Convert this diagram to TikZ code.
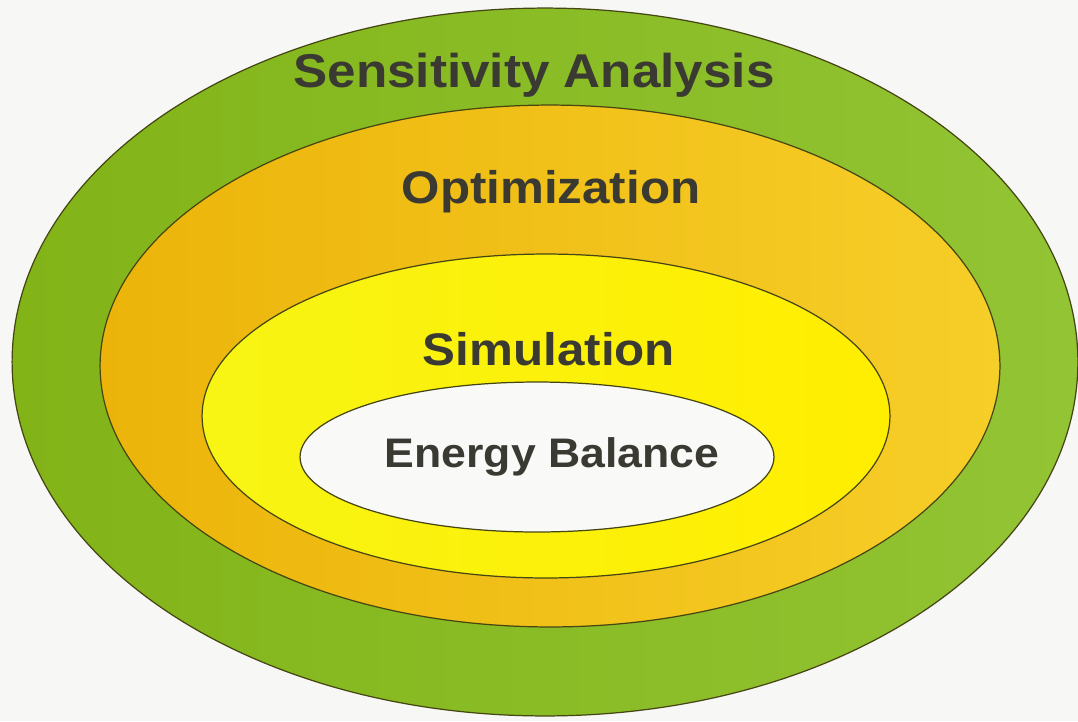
\documentclass[tikz,border=0pt]{standalone}
\usepackage{fontspec}
\setmainfont{Liberation Sans}
\usetikzlibrary{shapes.geometric}

\definecolor{paper}{RGB}{247,247,245}
\definecolor{rim}{RGB}{70,70,20}
\definecolor{leafL}{RGB}{130,180,24}
\definecolor{leafR}{RGB}{146,196,52}
\definecolor{goldL}{RGB}{236,180,10}
\definecolor{goldR}{RGB}{246,206,40}
\definecolor{lemonL}{RGB}{248,244,20}
\definecolor{lemonR}{RGB}{255,238,0}
\definecolor{core}{RGB}{249,249,248}
\definecolor{ink}{RGB}{58,58,50}

\tikzset{
  ring/.style={ellipse, draw=rim, line width=0.7pt, inner sep=0pt},
  tag/.style={anchor=base, text=ink, font=\bfseries\fontsize{#1}{#1}\selectfont, xscale=1.08},
}

\begin{document}
\begin{tikzpicture}[x=0.02cm,y=-0.02cm]
  % page, in pixel units
  \fill[paper] (0,0) rectangle (1078,721);
  \useasboundingbox (0,0) rectangle (1078,721);

  % nested rings, outside in
  \node[ring, left color=leafL, right color=leafR,
        minimum width=21.32cm, minimum height=14.16cm] (sens) at (545,362) {};
  \node[ring, left color=goldL, right color=goldR,
        minimum width=18.0cm, minimum height=10.44cm] (optim) at (550,366) {};
  \node[ring, left color=lemonL, right color=lemonR,
        minimum width=13.76cm, minimum height=6.48cm] (simul) at (546,416) {};
  \node[ring, fill=core,
        minimum width=9.48cm, minimum height=3.0cm] (energy) at (537,457) {};

  % labels
  \node[tag=27] (sensL) at (534,87) {Sensitivity Analysis};
  \node[tag=26] (optimL) at (551,203) {Optimization};
  \node[tag=26] (simulL) at (549,365) {Simulation};
  \node[tag=23.5] (energyL) at (552,467) {Energy Balance};
\end{tikzpicture}
\end{document}
